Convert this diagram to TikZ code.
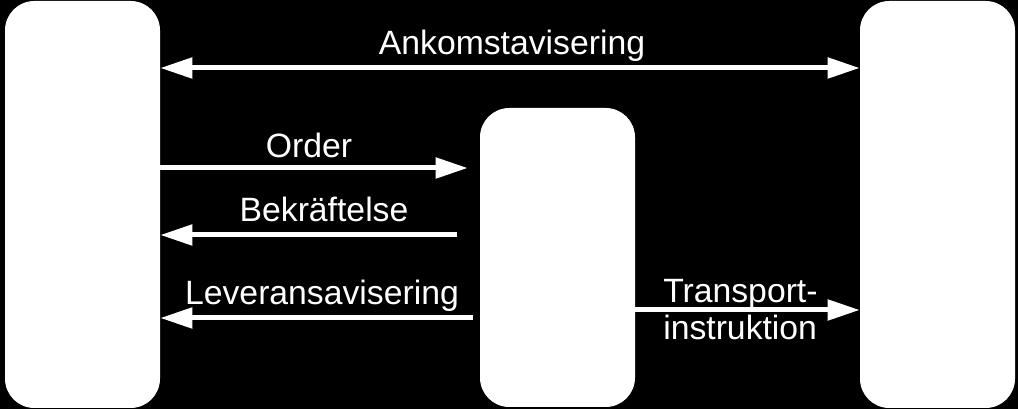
\documentclass[tikz,border=0pt]{standalone}
\usepackage{fontspec}
\setmainfont{Liberation Sans}
\usetikzlibrary{arrows.meta}
\begin{document}
\begin{tikzpicture}[x=0.75pt,y=-0.75pt,
  boxnode/.style={fill=white,draw=none,rounded corners=22pt,inner sep=0pt},
  arr/.style={draw=white,line width=3.75pt,-{Triangle[length=24pt,width=15pt]}},
  lbl/.style={text=white,font=\fontsize{25.3}{28}\selectfont,inner sep=0pt,anchor=base}]
\useasboundingbox (0,0) rectangle (1018,409);
\fill[black] (0,0) rectangle (1018,409);
\node[boxnode,minimum width=155*0.75pt,minimum height=407*0.75pt] (L) at (82.5,204.5) {};
\node[boxnode,minimum width=155*0.75pt,minimum height=299*0.75pt] (M) at (557.5,257.5) {};
\node[boxnode,minimum width=155*0.75pt,minimum height=407*0.75pt] (R) at (937.5,204.5) {};
\coordinate (yA) at (0,68);
\coordinate (yO) at (0,168);
\coordinate (yB) at (0,235);
\coordinate (yL) at (0,318);
\coordinate (yT) at (0,310);
\draw[arr,{Triangle[length=24pt,width=15pt]}-{Triangle[length=24pt,width=15pt]}] (L.east |- yA) -- (R.west |- yA);
\draw[arr,shorten >=12*0.75pt] (L.east |- yO) -- (M.west |- yO);
\draw[arr,shorten <=23*0.75pt] (M.west |- yB) -- (L.east |- yB);
\draw[arr,shorten <=7*0.75pt] (M.west |- yL) -- (L.east |- yL);
\draw[arr] (M.east |- yT) -- (R.west |- yT);
\node[lbl] (tA) at (512,55) {Ankomstavisering};
\node[lbl] (tO) at (309,158) {Order};
\node[lbl] (tB) at (324,222) {Bekräftelse};
\node[lbl] (tL) at (322,305) {Leveransavisering};
\node[lbl,anchor=base west] (tT1) at (663,303) {Transport-};
\node[lbl,anchor=base west] (tT2) at (663,340) {instruktion};
\end{tikzpicture}
\end{document}
